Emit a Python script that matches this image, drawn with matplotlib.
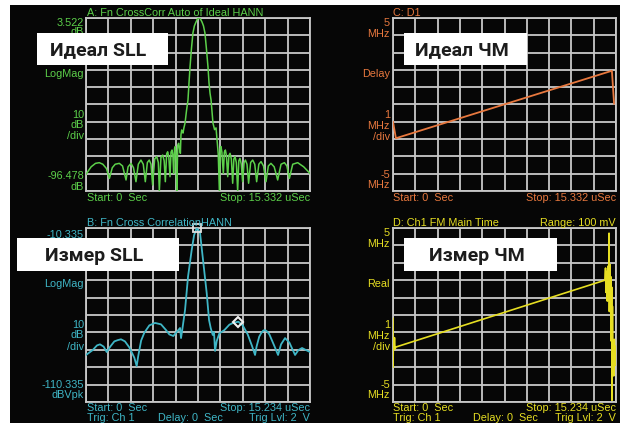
import numpy as np
import matplotlib as mpl
mpl.use('Agg')
import matplotlib.pyplot as plt
from matplotlib.patches import Rectangle

W, H = 620, 423

# A: ideal autocorrelation (us, dB)
a_t = [0.00, 0.35, 0.65, 0.91, 1.15, 1.40, 1.60, 1.80, 2.00, 2.28, 2.50, 2.74,
       2.88, 3.08, 3.25, 3.42, 3.58, 3.76, 3.92, 4.06, 4.20, 4.33, 4.45, 4.56,
       4.70, 4.84, 4.95, 5.02, 5.13, 5.25, 5.35, 5.43, 5.52, 5.59, 5.67, 5.75,
       5.82, 5.89, 5.95, 6.00, 6.06, 6.11, 6.16, 6.21, 6.28, 6.34, 6.40, 6.46,
       6.50, 6.55, 6.60, 6.64, 6.70, 6.78, 6.88, 6.98, 7.05, 7.12, 7.22, 7.32,
       7.42, 7.53, 7.63, 7.73, 7.83, 7.94, 8.04, 8.14, 8.24, 8.35, 8.42, 8.49,
       8.56, 8.62, 8.69, 8.80, 8.90, 8.97, 9.05, 9.13, 9.19, 9.24, 9.30, 9.40,
       9.47, 9.54, 9.61, 9.70, 9.78, 9.86, 9.95, 10.04, 10.12, 10.20, 10.29,
       10.38, 10.46, 10.54, 10.63, 10.72, 10.82, 10.91, 11.02, 11.13, 11.27,
       11.41, 11.55, 11.68, 11.83, 11.98, 12.15, 12.32, 12.48, 12.66, 12.88,
       13.12, 13.35, 13.58, 13.75, 13.92, 14.15, 14.49, 14.90, 15.33]
a_db = [-86.8, -82.5, -80.5, -80.1, -81.0, -83.5, -89.2, -83.0, -81.0, -80.5,
        -82.0, -90.1, -82.5, -80.5, -83.0, -91.1, -81.0, -78.6, -81.0, -91.1,
        -80.0, -78.6, -81.0, -93.0, -78.0, -76.6, -80.0, -96.4, -77.0, -75.7,
        -79.0, -91.1, -75.0, -73.8, -77.0, -88.2, -74.0, -72.8, -76.0, -86.3,
        -72.0, -70.8, -76.0, -96.4, -70.0, -68.9, -72.0, -74.7, -64.0, -61.2,
        -62.0, -63.0, -60.0, -57.2, -50.0, -43.9, -34.0, -24.8, -14.0, -5.1,
        -1.0, 1.2, 3.0, 3.5, 3.0, 1.2, -1.0, -5.1, -14.0, -24.8, -34.0, -40.0,
        -43.9, -50.0, -57.2, -61.0, -60.0, -67.0, -75.0, -96.4, -72.0, -70.8,
        -74.0, -86.3, -74.0, -72.8, -76.0, -88.2, -76.0, -74.7, -78.0, -92.0,
        -78.0, -76.6, -80.0, -96.4, -79.0, -77.6, -81.0, -91.1, -80.0, -78.6,
        -81.0, -92.0, -80.0, -78.6, -81.0, -91.1, -81.0, -79.5, -82.0, -91.1,
        -82.0, -80.5, -82.5, -90.1, -81.0, -80.1, -82.0, -89.2, -81.0, -80.1,
        -82.5, -86.3]

# B: measured cross correlation (us, dB)
b_t = [0.000, 0.454, 0.750, 0.952, 1.200, 1.406, 1.650, 1.927, 2.150, 2.381,
       2.650, 2.950, 3.288, 3.447, 3.550, 3.750, 3.968, 4.308, 4.694, 5.102,
       5.442, 5.669, 5.941, 6.168, 6.395, 6.463, 6.576, 6.735, 6.939, 7.188,
       7.350, 7.528, 7.650, 7.755, 7.959, 8.209, 8.367, 8.481, 8.617, 8.707,
       8.776, 8.889, 9.070, 9.410, 9.751, 10.000, 10.363, 10.658, 10.998,
       11.293, 11.497, 11.600, 11.780, 11.905, 12.050, 12.177, 12.330, 12.472,
       12.812, 13.061, 13.265, 13.537, 13.832, 14.218, 14.444, 14.694, 14.966,
       15.234]
b_db = [-83.3, -80.5, -77.8, -77.2, -78.5, -81.6, -78.5, -75.5, -74.8, -74.3,
        -75.5, -79.0, -84.9, -89.7, -84.0, -75.0, -70.5, -66.3, -64.9, -65.7,
        -69.0, -71.5, -72.4, -70.1, -67.8, -73.6, -67.1, -57.5, -38.3, -23.0,
        -14.5, -10.5, -11.5, -13.2, -28.7, -47.7, -63.2, -67.8, -71.8, -70.1,
        -81.0, -75.3, -70.9, -69.0, -65.9, -64.9, -64.2, -66.3, -71.5, -78.2,
        -83.3, -78.5, -72.8, -70.9, -69.3, -69.0, -69.9, -71.5, -78.2, -83.3,
        -77.2, -73.6, -76.2, -83.3, -80.5, -79.3, -80.5, -81.6]
b_peak = (7.528, -10.5)
b_mark = (10.363, -64.2)

# C: ideal FM (us, MHz)
c_t = [0.0, 0.2, 15.05, 15.2]
c_f = [-1.0, -1.95, 1.95, 0.05]

# D: measured FM (us, MHz)
d_t = [0.0, 0.0, 0.03, 0.06, 0.1, 0.14, 0.2, 14.48, 14.52, 14.55, 14.6, 14.64,
       14.68, 14.72, 14.76, 14.78, 14.82, 14.85, 14.88, 14.91, 14.94, 14.96,
       14.99, 15.02, 15.05, 15.08, 15.12, 15.16, 15.2, 15.234]
d_f = [-0.2, -3.0, -1.4, -2.0, -1.3, -1.95, -1.84, 2.0, 2.7, 1.3, 2.5, 0.8,
       2.8, 1.0, 4.7, 0.2, 2.9, 0.3, 2.2, -1.5, 1.6, -4.9, 0.5, -3.0, -1.6,
       -3.5, -1.4, -2.9, -1.8, -2.6]

GREEN = '#5cd04a'
CYAN = '#3fb6c6'
ORANGE = '#e8783e'
YELLOW = '#e6de22'
GRID = '#c8c8c8'

plt.rcParams['font.family'] = ['Liberation Sans', 'DejaVu Sans']

fig = plt.figure(figsize=(W / 100, H / 100), dpi=100)
fig.patch.set_facecolor('white')
fig.patches.append(Rectangle((10 / W, 0), 1, 1 - 5 / H, transform=fig.transFigure,
                             facecolor='#060606', edgecolor='none', zorder=-5))


def fx(x):
    return x / W


def fy(y):
    return 1 - y / H


def label(x, y, s, c, ha='left', size=7.8):
    fig.text(fx(x), fy(y), s, color=c, ha=ha, va='center', fontsize=size)


def panel(l, t, r, b, xmax, ylo, yhi):
    ax = fig.add_axes([fx(l), fy(b), (r - l) / W, (b - t) / H])
    ax.set_facecolor('#060606')
    ax.set_xlim(0, xmax)
    ax.set_ylim(ylo, yhi)
    ax.set_xticks(np.linspace(0, xmax, 11))
    ax.set_yticks(np.linspace(ylo, yhi, 11))
    ax.tick_params(length=0, labelbottom=False, labelleft=False)
    ax.grid(True, color=GRID, lw=1.3)
    for s in ax.spines.values():
        s.set_color(GRID)
        s.set_linewidth(1.3)
    return ax


axA = panel(86, 18, 310, 191, 15.332, -96.478, 3.522)
axA.plot(a_t, a_db, color=GREEN, lw=1.1, zorder=3)

axC = panel(393, 18, 616, 191, 15.332, -5, 5)
axC.plot(c_t, c_f, color=ORANGE, lw=1.3, zorder=3)

axB = panel(86, 228, 310, 402, 15.234, -110.335, -10.335)
axB.plot(b_t, b_db, color=CYAN, lw=1.3, zorder=3)
axB.plot(*b_peak, marker='s', ms=6, mfc='none', mec='#e0e0e0', mew=1.3, zorder=4, clip_on=False)
axB.plot(*b_mark, marker='D', ms=5, mfc='none', mec='#f0f0f0', mew=1.5, zorder=4)

axD = panel(393, 228, 616, 402, 15.234, -5, 5)
axD.plot(d_t, d_f, color=YELLOW, lw=1.2, zorder=3)

# panel A texts
label(87, 13, 'A: Fn CrossCorr Auto of Ideal HANN', GREEN)
for y, s in [(23, '3.522'), (32, 'dB'), (74, 'LogMag'), (115, '10'), (125, 'dB'),
             (136, '/div'), (176, '-96.478'), (187, 'dB')]:
    label(84, y, s, GREEN, ha='right')
label(87, 198, 'Start: 0  Sec', GREEN)
label(310, 198, 'Stop: 15.332 uSec', GREEN, ha='right')

# panel C texts
label(393, 13, 'C: D1', ORANGE)
for y, s in [(23, '5'), (34, 'MHz'), (74, 'Delay'), (115, '1'), (126, 'MHz'),
             (137, '/div'), (175, '-5'), (185, 'MHz')]:
    label(390, y, s, ORANGE, ha='right')
label(393, 198, 'Start: 0  Sec', ORANGE)
label(616, 198, 'Stop: 15.332 uSec', ORANGE, ha='right')

# panel B texts
label(87, 223, 'B: Fn Cross CorrelationHANN', CYAN)
for y, s in [(235, '-10.335'), (284, 'LogMag'), (325, '10'), (335, 'dB'),
             (347, '/div'), (385, '-110.335'), (395, 'dBVpk')]:
    label(84, y, s, CYAN, ha='right')
label(87, 408, 'Start: 0  Sec', CYAN)
label(310, 408, 'Stop: 15.234 uSec', CYAN, ha='right')
label(87, 418, 'Trig: Ch 1', CYAN)
label(158, 418, 'Delay: 0  Sec', CYAN)
label(310, 418, 'Trig Lvl: 2  V', CYAN, ha='right')

# panel D texts
label(393, 223, 'D: Ch1 FM Main Time', YELLOW)
label(616, 223, 'Range: 100 mV', YELLOW, ha='right')
for y, s in [(233, '5'), (244, 'MHz'), (284, 'Real'), (325, '1'), (336, 'MHz'),
             (347, '/div'), (385, '-5'), (395, 'MHz')]:
    label(390, y, s, YELLOW, ha='right')
label(393, 408, 'Start: 0  Sec', YELLOW)
label(616, 408, 'Stop: 15.234 uSec', YELLOW, ha='right')
label(393, 418, 'Trig: Ch 1', YELLOW)
label(473, 418, 'Delay: 0  Sec', YELLOW)
label(616, 418, 'Trig Lvl: 2  V', YELLOW, ha='right')

# white caption boxes
boxes = [(37, 33, 168, 65, 'Идеал SLL'), (404, 33, 527, 65, 'Идеал ЧМ'),
         (17, 238, 179, 271, 'Измер SLL'), (404, 238, 557, 271, 'Измер ЧМ')]
for l, t, r, b, s in boxes:
    fig.patches.append(Rectangle((fx(l), fy(b)), (r - l) / W, (b - t) / H,
                                 transform=fig.transFigure, facecolor='white',
                                 edgecolor='none', zorder=5))
    fig.text(fx((l + r) / 2 - 4), fy((t + b) / 2 + 1), s, ha='center', va='center',
             fontsize=14, fontweight='bold', color='#1c1c1c', zorder=6,
             family=['Liberation Sans Narrow', 'Roboto', 'DejaVu Sans'])

fig.savefig('out.png', dpi=100, facecolor=fig.get_facecolor())
